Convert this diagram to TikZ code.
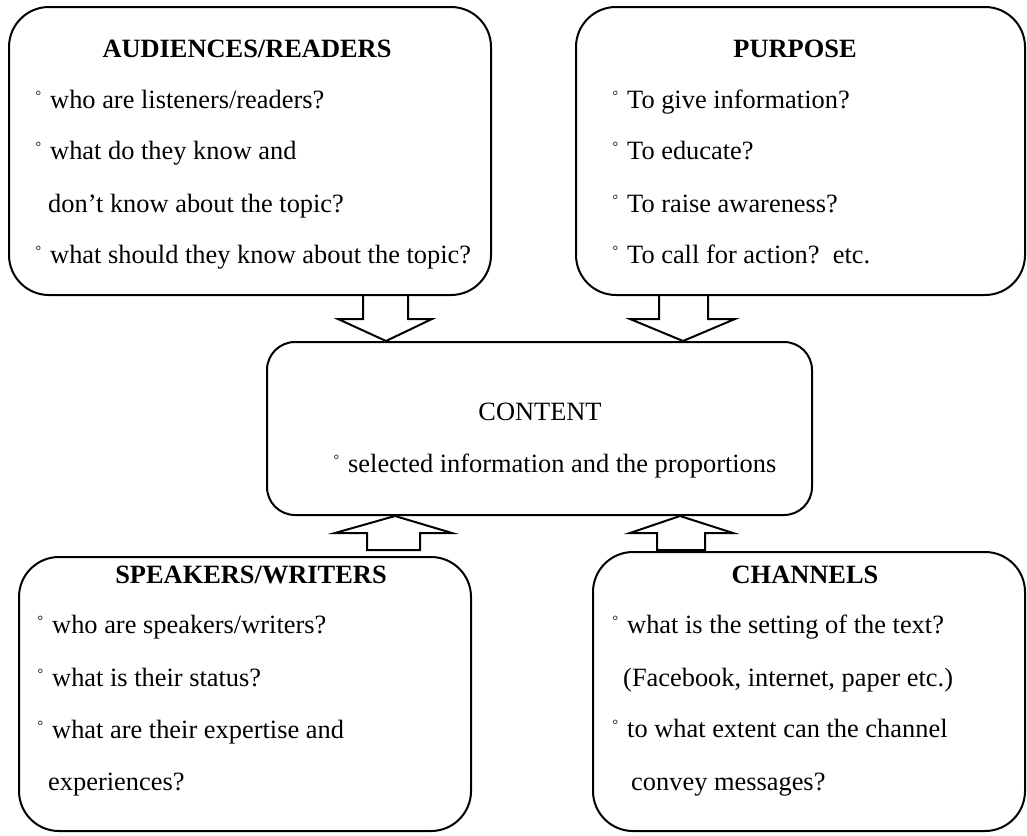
\documentclass[tikz,border=0pt]{standalone}
\usepackage{fontspec}
\setmainfont{Liberation Serif}
\newcommand{\dg}{\llap{\raisebox{8pt}{\fontsize{14}{14}\selectfont °}\kern9pt}}
\begin{document}
\begin{tikzpicture}[x=1pt,y=-1pt,
  box/.style={draw, line width=2pt, rounded corners=40pt, inner sep=0pt},
  txt/.style={anchor=base west, inner sep=0pt, font=\fontsize{26.4}{31}\selectfont},
  hd/.style={anchor=base, inner sep=0pt, font=\fontsize{26.4}{31}\selectfont\bfseries},
  blk/.style={draw, line width=2pt, line join=miter}]
\useasboundingbox (0,0) rectangle (1027,835);

% boxes
\node[box, minimum width=482pt, minimum height=288pt] (aud) at (250,151) {};
\node[box, minimum width=449pt, minimum height=288pt] (pur) at (800.5,151) {};
\node[box, rounded corners=28pt, minimum width=545pt, minimum height=173pt] (cont) at (539.5,428.5) {};
\node[box, minimum width=452pt, minimum height=274pt] (spk) at (245,694) {};
\node[box, minimum width=432pt, minimum height=279pt] (chn) at (809,691.5) {};

% block arrows
\draw[blk] (363,0 |- aud.south) -- (363,319) -- (338,319) -- (386,0 |- cont.north) -- (432,319) -- (408,319) -- (408,0 |- aud.south);
\draw[blk] (659,0 |- pur.south) -- (659,319) -- (630,319) -- (683,0 |- cont.north) -- (735,319) -- (708,319) -- (708,0 |- pur.south);
\draw[blk] (367,550) -- (367,533) -- (335,533) -- (395,0 |- cont.south) -- (452,533) -- (420,533) -- (420,550) -- cycle;
\draw[blk] (657,550) -- (657,533) -- (630,533) -- (680,0 |- cont.south) -- (733,533) -- (705,533) -- (705,550) -- cycle;

% audiences
\node[hd] (audh) at (247,57) {AUDIENCES/READERS};
\node[txt] (aud1) at (50,108) {\dg who are listeners/readers?};
\node[txt] (aud2) at (50,159) {\dg what do they know and};
\node[txt] (aud3) at (48,212) {don’t know about the topic?};
\node[txt] (aud4) at (50,263) {\dg what should they know about the topic?};

% purpose
\node[hd] (purh) at (795,57) {PURPOSE};
\node[txt] (pur1) at (627,108) {\dg To give information?};
\node[txt] (pur2) at (627,159) {\dg To educate?};
\node[txt] (pur3) at (627,212) {\dg To raise awareness?};
\node[txt] (pur4) at (627,263) {\dg To call for action?\ \ etc.};

% content
\node[txt, anchor=base] (conth) at (540,420) {CONTENT};
\node[txt] (cont1) at (348,472) {\dg selected information and the proportions};

% speakers
\node[hd] (spkh) at (251,583) {SPEAKERS/WRITERS};
\node[txt] (spk1) at (52,633) {\dg who are speakers/writers?};
\node[txt] (spk2) at (52,686) {\dg what is their status?};
\node[txt] (spk3) at (52,738) {\dg what are their expertise and};
\node[txt] (spk4) at (48,790) {experiences?};

% channels
\node[hd] (chnh) at (805,583) {CHANNELS};
\node[txt] (chn1) at (627,633) {\dg what is the setting of the text?};
\node[txt] (chn2) at (623,686) {(Facebook, internet, paper etc.)};
\node[txt] (chn3) at (627,737) {\dg to what extent can the channel};
\node[txt] (chn4) at (631,790) {convey messages?};
\end{tikzpicture}
\end{document}
